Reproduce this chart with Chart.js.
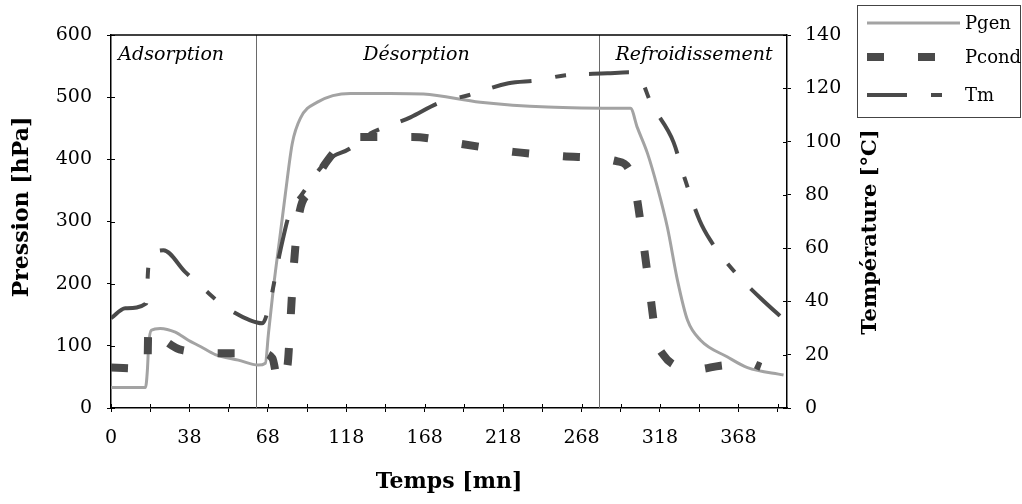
<!DOCTYPE html>
<html>
<head>
<meta charset="utf-8">
<script src="https://cdn.jsdelivr.net/npm/chart.js@4.4.1/dist/chart.umd.min.js"></script>
<style>
  html, body { margin: 0; padding: 0; background: #fff; }
  #wrap { width: 1022px; height: 504px; }
</style>
</head>
<body>
<div id="wrap"><canvas id="cycleChart" width="1022" height="504"></canvas></div>
<script>
// x values are positions on the time axis (50 units between labelled ticks)
var tickLabels = ['0', '38', '68', '118', '168', '218', '268', '318', '368'];
var phaseBounds = [92.7, 311.4];
var phaseNames = ['Adsorption', 'Désorption', 'Refroidissement'];
var phaseStart = [4.7, 160.9, 321.6];

var pgenTime = [0, 22, 23.2, 24, 25.7, 31.4, 41, 49.3, 57, 66.5, 81.2, 93.9, 98.4, 100.4, 103.6, 108, 111.2, 115.6, 120.7, 131.6, 152.6, 178.1, 199.2, 235.5, 278.3, 329.3, 331.2, 335.6, 342, 348.4, 354.8, 361.2, 367.6, 375.9, 393.1, 405.8, 428.8];
var pgenValues = [33, 33, 61, 101, 125, 128, 122, 109, 99, 86, 77, 69, 72, 120, 194, 281, 345, 426, 466, 492, 506, 506, 505, 492, 484, 482, 482, 451, 410, 355, 290, 205, 141, 109, 82, 65, 53];

var pcondTime = [0, 23.2, 23.8, 28.3, 45.5, 77.4, 96.5, 102.9, 106.7, 112.5, 114.4, 116.3, 119.5, 127.2, 138, 155.8, 192.2, 222.8, 256.6, 288.5, 322.3, 330, 334.4, 338.9, 343.4, 347.8, 352.3, 360, 372.7, 388.6, 407.8, 414.3];
var pcondValues = [65, 63, 128, 120, 93, 88, 88, 80, 42, 68, 140, 220, 305, 350, 398, 436, 436, 425, 412, 405, 397, 385, 350, 275, 190, 110, 85, 68, 62, 68, 72, 66];

var tmTime = [0, 9.1, 22.5, 23.8, 28.3, 33.4, 47.4, 60.1, 71.6, 88.8, 96.5, 101.6, 108, 114.4, 120.7, 138, 152.6, 160.9, 190.9, 208.7, 227.9, 253.4, 271.9, 289.8, 316.5, 329.9, 337.6, 344, 358.7, 365.1, 375.3, 382.3, 398.3, 414.2, 431];
var tmValues = [33.7, 37.4, 39.3, 52.8, 58.5, 59.2, 51, 44.2, 38.5, 32.9, 31.8, 40.4, 59.2, 74.2, 79.4, 93, 97.5, 101.6, 109.1, 114.4, 117.4, 121.9, 123, 124.9, 125.6, 126, 123.8, 114.8, 99.7, 87.4, 70.4, 62.8, 50.6, 41.2, 32.2];

function points(xs, ys) {
	return xs.map(function(v, i) { return {x: v, y: ys[i]}; });
}

Chart.defaults.font.family = 'DejaVu Serif';
Chart.defaults.color = '#000';

var framePlugin = {
	id: 'frame',
	beforeDatasetsDraw: function(chart) {
		var ctx = chart.ctx, a = chart.chartArea, x = chart.scales.x;
		ctx.save();
		ctx.strokeStyle = '#6a6a6a';
		ctx.lineWidth = 1;
		phaseBounds.forEach(function(v) {
			var px = Math.round(x.getPixelForValue(v)) + 0.5;
			ctx.beginPath();
			ctx.moveTo(px, a.top);
			ctx.lineTo(px, a.bottom);
			ctx.stroke();
		});
		ctx.restore();
	},
	afterDraw: function(chart) {
		var ctx = chart.ctx, a = chart.chartArea;
		var x = chart.scales.x, y = chart.scales.y, y1 = chart.scales.y1;
		ctx.save();
		// top border of the plot box
		ctx.strokeStyle = '#000';
		ctx.lineWidth = 1.5;
		ctx.beginPath();
		ctx.moveTo(a.left, a.top);
		ctx.lineTo(a.right, a.top);
		ctx.stroke();
		// inner half of the tick marks
		ctx.lineWidth = 1;
		x.ticks.forEach(function(t, i) {
			var px = Math.round(x.getPixelForTick(i)) + 0.5;
			ctx.beginPath(); ctx.moveTo(px, a.bottom); ctx.lineTo(px, a.bottom - 4); ctx.stroke();
		});
		y.ticks.forEach(function(t, i) {
			var py = Math.round(y.getPixelForTick(i)) + 0.5;
			ctx.beginPath(); ctx.moveTo(a.left, py); ctx.lineTo(a.left + 4, py); ctx.stroke();
		});
		y1.ticks.forEach(function(t, i) {
			var py = Math.round(y1.getPixelForTick(i)) + 0.5;
			ctx.beginPath(); ctx.moveTo(a.right, py); ctx.lineTo(a.right - 4, py); ctx.stroke();
		});

		// phase names
		ctx.fillStyle = '#000';
		ctx.font = 'italic 19px "DejaVu Serif"';
		ctx.textBaseline = 'middle';
		ctx.textAlign = 'left';
		phaseNames.forEach(function(name, i) {
			ctx.fillText(name, x.getPixelForValue(phaseStart[i]), y.getPixelForValue(567));
		});

		// left axis title, reading upwards
		ctx.save();
		ctx.translate(22, 207);
		ctx.rotate(-Math.PI / 2);
		ctx.font = 'bold 22px "DejaVu Serif"';
		ctx.textAlign = 'center';
		ctx.fillText('Pression [hPa]', 0, 0);
		ctx.restore();

		// right axis title, reading upwards
		ctx.save();
		ctx.translate(871, 232);
		ctx.rotate(-Math.PI / 2);
		ctx.font = 'bold 21px "DejaVu Serif"';
		ctx.textAlign = 'center';
		ctx.fillText('Température [°C]', 0, 0);
		ctx.restore();

		// legend box
		ctx.strokeStyle = '#444';
		ctx.lineWidth = 1;
		ctx.strokeRect(857.5, 5.5, 163, 112);
		var rows = [23, 57, 95];
		var ends = [960, 937, 942];
		ctx.font = '18px "DejaVu Serif"';
		chart.data.datasets.forEach(function(ds, i) {
			ctx.save();
			ctx.strokeStyle = ds.borderColor;
			ctx.lineWidth = ds.borderWidth;
			ctx.setLineDash(ds.borderDash || []);
			ctx.beginPath();
			ctx.moveTo(867, rows[i]);
			ctx.lineTo(ends[i], rows[i]);
			ctx.stroke();
			ctx.restore();
			ctx.fillText(ds.label, 965, rows[i] + 1);
		});
		ctx.restore();
	}
};

var ctx = document.getElementById('cycleChart').getContext('2d');
var myChart = new Chart(ctx, {
	type: 'line',
	data: {
		datasets: [{
			label: 'Pgen',
			data: points(pgenTime, pgenValues),
			borderColor: '#a3a3a3',
			borderWidth: 3,
			yAxisID: 'y',
			order: 3
		}, {
			label: 'Pcond',
			data: points(pcondTime, pcondValues),
			borderColor: '#4a4a4a',
			borderWidth: 8,
			borderDash: [17, 34],
			yAxisID: 'y',
			order: 2
		}, {
			label: 'Tm',
			data: points(tmTime, tmValues),
			borderColor: '#4a4a4a',
			borderWidth: 4,
			borderDash: [40, 24, 11, 23],
			yAxisID: 'y1',
			order: 1
		}]
	},
	options: {
		responsive: false,
		animation: false,
		layout: { padding: { top: 35, left: 0, right: 0, bottom: 0 } },
		elements: {
			point: { radius: 0 },
			line: { cubicInterpolationMode: 'monotone', borderCapStyle: 'butt', fill: false }
		},
		plugins: {
			legend: { display: false },
			tooltip: { enabled: false }
		},
		scales: {
			x: {
				type: 'linear',
				min: 0,
				max: 431,
				afterFit: function(scale) { scale.height = 96; },
				border: { display: true, color: '#000', width: 1.5 },
				grid: { display: true, drawOnChartArea: false, drawTicks: true, tickLength: 4, color: '#000' },
				ticks: {
					stepSize: 25,
					autoSkip: false,
					includeBounds: false,
					maxRotation: 0,
					padding: 15,
					font: { size: 19 },
					callback: function(value) {
						return value % 50 === 0 ? tickLabels[value / 50] : '';
					}
				},
				title: {
					display: true,
					text: 'Temps [mn]',
					font: { size: 22, weight: 'bold' },
					padding: { top: 0, bottom: 9 }
				}
			},
			y: {
				position: 'left',
				min: 0,
				max: 600,
				afterFit: function(scale) { scale.width = 111; },
				border: { display: true, color: '#000', width: 1.5 },
				grid: { display: true, drawOnChartArea: false, drawTicks: true, tickLength: 4, color: '#000' },
				ticks: { stepSize: 100, padding: 15, font: { size: 19 } },
				title: { display: false }
			},
			y1: {
				position: 'right',
				min: 0,
				max: 140,
				afterFit: function(scale) { scale.width = 235; },
				border: { display: true, color: '#000', width: 1.5 },
				grid: { display: true, drawOnChartArea: false, drawTicks: true, tickLength: 4, color: '#000' },
				ticks: { stepSize: 20, padding: 14, font: { size: 19 } },
				title: { display: false }
			}
		}
	},
	plugins: [framePlugin]
});
</script>
</body>
</html>
